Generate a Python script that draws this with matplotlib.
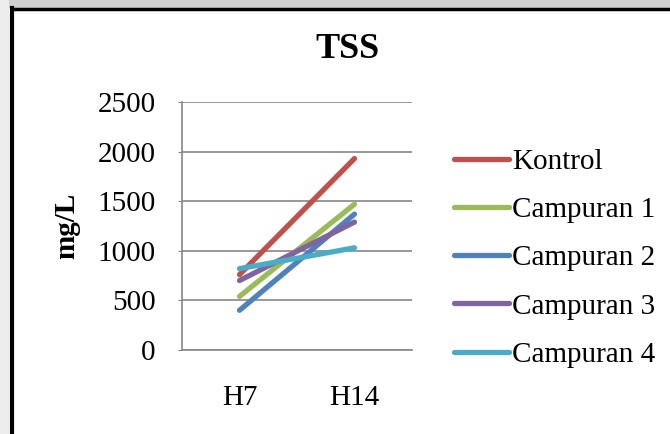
import numpy as np
import matplotlib.pyplot as plt
from matplotlib.patches import Rectangle
from matplotlib.lines import Line2D

plt.rcParams['font.family'] = ['Liberation Serif', 'DejaVu Serif']

# data (mg/L)
days = ['H7', 'H14']
series = ['Kontrol', 'Campuran 1', 'Campuran 2', 'Campuran 3', 'Campuran 4']
kontrol = [760, 1930]
campuran1 = [540, 1470]
campuran2 = [400, 1370]
campuran3 = [700, 1290]
campuran4 = [820, 1030]
colors = ['#C0504D', '#9BBB59', '#4F81BD', '#8064A2', '#4BACC6']
yticks = [0, 500, 1000, 1500, 2000, 2500]

W, H = 670, 434
fig = plt.figure(figsize=(W/100, H/100), dpi=100)
fig.patch.set_facecolor('white')

# scanned page edge: grey strip on top/left and black frame
fig.add_artist(Rectangle((0, 1 - 8/H), 1, 8/H, transform=fig.transFigure,
                         facecolor='#cfcfcf', edgecolor='none', zorder=0))
fig.add_artist(Rectangle((0, 0), 9/W, 1, transform=fig.transFigure,
                         facecolor='#ededed', edgecolor='none', zorder=0))
fig.add_artist(Line2D([11.5/W, 11.5/W], [0, 1 - 8/H], transform=fig.transFigure,
                      color='black', lw=3.0, solid_capstyle='projecting'))
fig.add_artist(Line2D([11.5/W, 1], [1 - 9/H, 1 - 9/H], transform=fig.transFigure,
                      color='black', lw=2.5, solid_capstyle='projecting'))

ax = fig.add_axes([182/W, 1 - 350/H, 230/W, 248/H])
x = np.arange(len(days))
data = [kontrol, campuran1, campuran2, campuran3, campuran4]
for name, vals, c in zip(series, data, colors):
    ax.plot(x, vals, color=c, lw=3.8, solid_capstyle='round', label=name)

ax.set_xlim(-0.5, 1.5)
ax.set_ylim(0, 2500)
ax.set_yticks(yticks)
ax.set_xticks(x)
ax.set_xticklabels(days)
ax.yaxis.grid(True, color='#868686', lw=1.2)
ax.set_axisbelow(True)
for s in ['top', 'right']:
    ax.spines[s].set_visible(False)
for s in ['left', 'bottom']:
    ax.spines[s].set_color('#868686')
    ax.spines[s].set_linewidth(1.2)
ax.tick_params(axis='y', length=3, color='#868686', labelsize=21, pad=16)
ax.tick_params(axis='x', length=0, labelsize=21, pad=25)

ax.set_ylabel('mg/L', fontsize=21, fontweight='bold', labelpad=12)
fig.text(347/W, 1 - 50/H, 'TSS', fontsize=26, fontweight='bold',
         ha='center', va='center')

ax.legend(loc='upper left', bbox_to_anchor=(1.13, 0.86), frameon=False,
          fontsize=21, handlelength=1.9, handletextpad=0.1,
          labelspacing=0.75, borderaxespad=0)

fig.savefig('out.png', dpi=100)
